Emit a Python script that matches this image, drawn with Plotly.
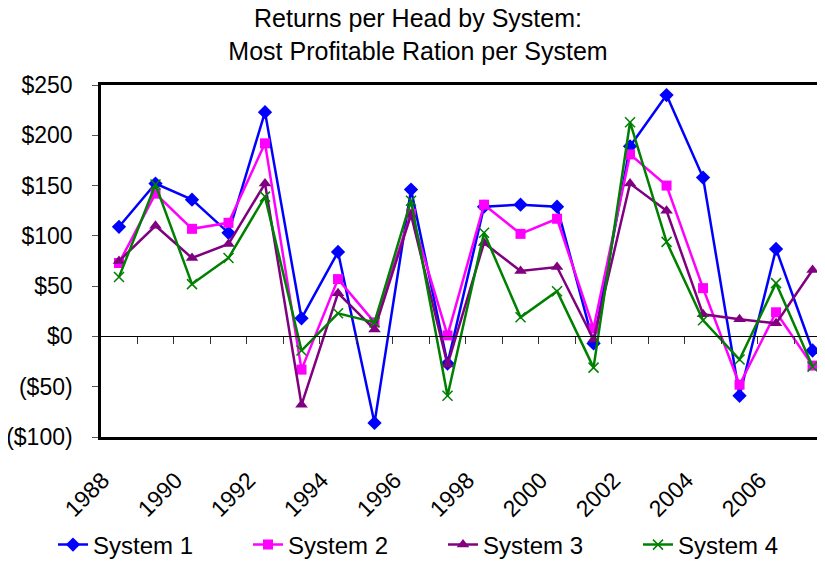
import plotly.graph_objects as go

years = list(range(1988, 2008))
system1 = [109, 152, 136, 103, 223, 18, 84, -86, 146, -27, 129, 131, 129, -7, 189, 240, 158, -59, 87, -14]
system2 = [73, 142, 107, 113, 192, -33, 57, 14, 122, 1, 131, 102, 117, 8, 181, 150, 48, -48, 24, -29]
system3 = [75, 110, 78, 92, 152, -68, 43, 7, 121, -28, 93, 65, 69, -3, 152, 125, 22, 17, 13, 66]
system4 = [59, 151, 52, 78, 139, -14, 23, 14, 135, -59, 103, 19, 45, -31, 213, 94, 16, -23, 53, -30]

series_names = ["System 1", "System 2", "System 3", "System 4"]
y_tickvals = [-100, -50, 0, 50, 100, 150, 200, 250]
y_ticktext = ["($100)", "($50)", "$0", "$50", "$100", "$150", "$200", "$250"]
x_label_years = years[::2]
x_ticktext = [str(y) for y in x_label_years]

FONT = "Liberation Sans, Arial, sans-serif"
W, H = 825, 561
L, T, B = 93, 77, 132
PH = H - T - B

styles = [
    dict(color="#0000FF", symbol="diamond", size=11, lw=0),
    dict(color="#FF00FF", symbol="square", size=10, lw=0),
    dict(color="#800080", symbol="triangle-up", size=11, lw=0),
    dict(color="#008000", symbol="x-thin", size=10, lw=1.5),
]

fig = go.Figure()
for name, vals, st in zip(series_names, [system1, system2, system3, system4], styles):
    fig.add_trace(go.Scatter(
        x=years, y=vals, name=name, mode="lines+markers",
        line=dict(color=st["color"], width=2.5),
        marker=dict(symbol=st["symbol"], size=st["size"], color=st["color"],
                    line=dict(width=st["lw"], color=st["color"])),
        cliponaxis=False,
    ))

# dummy trace for the zero-line tick axis
fig.add_trace(go.Scatter(x=[None], y=[None], xaxis="x2", yaxis="y", showlegend=False, hoverinfo="skip"))

xr = [1987.507, 2007.56]
PW = W - L
fig.update_layout(
    width=W, height=H,
    margin=dict(l=L, r=0, t=T, b=B, autoexpand=False),
    paper_bgcolor="white", plot_bgcolor="white",
    font=dict(family=FONT, size=23, color="black"),
    title=dict(text="Returns per Head by System:<br>Most Profitable Ration per System",
               xref="container", x=0.497, xanchor="center",
               yref="container", y=1 - 19 / H, yanchor="middle",
               font=dict(size=25, family=FONT, color="black")),
    showlegend=True,
    legend=dict(orientation="h", xref="paper", x=(45 - L) / PW, xanchor="left",
                yref="paper", y=(T + PH - 537) / PH, yanchor="middle",
                entrywidth=150, entrywidthmode="pixels", bgcolor="rgba(0,0,0,0)",
                font=dict(size=24, family=FONT, color="black"),
                itemwidth=30, tracegroupgap=0),
    xaxis=dict(range=xr, tickmode="array", tickvals=[y - 0.45 for y in x_label_years],
               ticktext=x_ticktext, automargin=False,
               tickangle=-45, ticks="", showgrid=False, zeroline=False,
               showline=True, linecolor="black", linewidth=2.5, mirror=True,
               ticklabelstandoff=18, tickfont=dict(size=23)),
    xaxis2=dict(range=xr, overlaying="x", anchor="free", position=100 / 350, side="bottom",
                tickmode="array", tickvals=[y + 0.5 for y in years[:-1]], automargin=False,
                ticks="outside", ticklen=7, tickwidth=1, tickcolor="#333333",
                showticklabels=False, showgrid=False, zeroline=False,
                showline=True, linecolor="black", linewidth=1),
    yaxis=dict(range=[-100, 250], tickmode="array", tickvals=y_tickvals, ticktext=y_ticktext,
               automargin=False,
               ticks="outside", ticklen=6, tickwidth=1, tickcolor="#555555",
               showgrid=False, zeroline=False,
               showline=True, linecolor="black", linewidth=2.5,
               ticklabelstandoff=15, tickfont=dict(size=23)),
)

fig.write_html("out.html")
